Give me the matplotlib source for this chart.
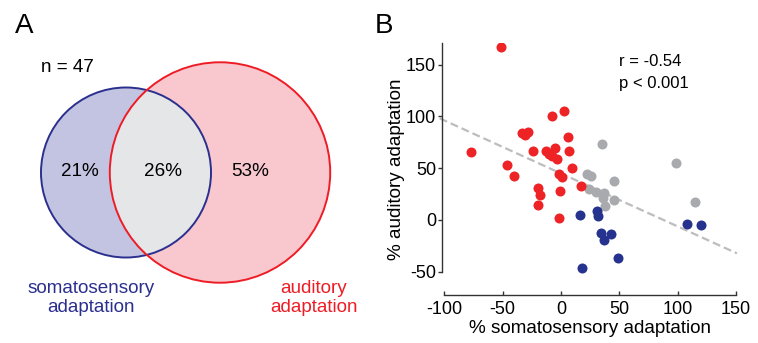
import numpy as np
import matplotlib
matplotlib.use("Agg")
import matplotlib.pyplot as plt
from matplotlib.patches import Circle

plt.rcParams['font.family'] = ['Liberation Sans', 'DejaVu Sans']
plt.rcParams['axes.unicode_minus'] = False

# ---------------- data ----------------
n_total = 47
venn_pct = [21, 26, 53]          # soma only, both, auditory only
venn_names = ["somatosensory\nadaptation", "auditory\nadaptation"]

red_x = [-51.4, -77.4, -46.6, -40.6, -33.4, -30.6, -28.0, -24.0, -20.0, -18.3,
         -19.4, -13.1, -7.7, -8.0, -4.9, -3.7, -1.4, 0.9, -0.6, -1.4,
         2.3, 6.3, 6.6, 9.4, 17.1, -10.5]
red_y = [167.0, 65.3, 53.0, 42.8, 84.3, 81.7, 84.6, 66.6, 30.3, 24.1,
         14.5, 66.3, 100.4, 61.5, 69.2, 58.3, 44.1, 41.5, 28.0, 1.6,
         105.0, 79.8, 66.6, 49.9, 32.2, 64.0]
gray_x = [35.4, 22.0, 25.4, 24.0, 30.0, 36.9, 35.7, 37.4, 45.1, 45.4, 98.9, 114.6]
gray_y = [73.0, 43.8, 42.5, 29.3, 27.0, 26.0, 21.2, 13.5, 37.7, 18.7, 55.0, 17.4]
blue_x = [16.0, 31.1, 31.7, 34.3, 36.6, 42.9, 48.6, 17.7, 108.3, 120.3]
blue_y = [4.2, 8.4, 3.2, -12.6, -19.3, -14.2, -36.7, -46.7, -4.5, -5.5]

fit_slope = -0.512
fit_intercept = 44.8
r_text = "r = -0.54"
p_text = "p < 0.001"

x_ticks = [-100, -50, 0, 50, 100, 150]
y_ticks = [-50, 0, 50, 100, 150]

# ---------------- colours ----------------
SOMA_EDGE = '#2B2F8E'
SOMA_FILL = '#C2C4E1'
AUD_EDGE = '#EE1C25'
AUD_FILL = '#F8C8CE'
BOTH_FILL = '#E5E6E8'
RED_DOT = '#EE2326'
BLUE_DOT = '#26338E'
GRAY_DOT = '#A9AAAD'

W, H = 758, 343
fig = plt.figure(figsize=(W / 100, H / 100), dpi=100)

# ---------------- panel A: Venn ----------------
axv = fig.add_axes([0, 0, 380 / W, 1])
axv.set_xlim(0, 380)
axv.set_ylim(H, 0)
axv.axis('off')

k = 12.4
r_soma = k * np.sqrt(venn_pct[0] + venn_pct[1])
r_aud = k * np.sqrt(venn_pct[1] + venn_pct[2])
cy = 172.5
cx_soma, cx_aud = 126, 220

c_soma = Circle((cx_soma, cy), r_soma, facecolor=SOMA_FILL, edgecolor='none', zorder=1)
c_aud = Circle((cx_aud, cy), r_aud, facecolor=AUD_FILL, edgecolor='none', zorder=2)
axv.add_patch(c_soma)
axv.add_patch(c_aud)
c_both = Circle((cx_soma, cy), r_soma, facecolor=BOTH_FILL, edgecolor='none', zorder=3)
axv.add_patch(c_both)
clip = Circle((cx_aud, cy), r_aud, transform=axv.transData)
c_both.set_clip_path(clip)
axv.add_patch(Circle((cx_soma, cy), r_soma, facecolor='none', edgecolor=SOMA_EDGE, lw=1.4, zorder=5))
axv.add_patch(Circle((cx_aud, cy), r_aud, facecolor='none', edgecolor=AUD_EDGE, lw=1.4, zorder=5))

fs = 13.6
axv.text(80, 172, f"{venn_pct[0]}%", ha='center', va='center', fontsize=fs, zorder=6)
axv.text(163, 172, f"{venn_pct[1]}%", ha='center', va='center', fontsize=fs, zorder=6)
axv.text(250, 172, f"{venn_pct[2]}%", ha='center', va='center', fontsize=fs, zorder=6)
axv.text(41, 67, f"n = {n_total}", ha='left', va='center', fontsize=fs)
axv.text(91, 298, venn_names[0], ha='center', va='center', fontsize=fs,
         color=SOMA_EDGE, linespacing=1.08)
axv.text(314, 298, venn_names[1], ha='center', va='center', fontsize=fs,
         color=AUD_EDGE, linespacing=1.08)
axv.text(24, 26, "A", ha='center', va='center', fontsize=20)

# ---------------- panel B: scatter ----------------
xlim = (-102.3, 152.0)
ylim = (-72.7, 170.6)
left_px, right_px = 441.7, 738.3
top_px, bot_px = 43.3, 295.0
axb = fig.add_axes([left_px / W, (H - bot_px) / H,
                    (right_px - left_px) / W, (bot_px - top_px) / H])
axb.set_xlim(*xlim)
axb.set_ylim(*ylim)
axb.patch.set_alpha(0)

xs = np.array([-104.0, 150.8])
axb.plot(xs, fit_slope * xs + fit_intercept, color='#BDBDBF', lw=1.6,
         dashes=(3.6, 1.8), zorder=1, clip_on=False)

ms = 52
axb.scatter(gray_x, gray_y, s=ms, color=GRAY_DOT, linewidths=0, zorder=2)
axb.scatter(blue_x, blue_y, s=ms, color=BLUE_DOT, linewidths=0, zorder=3)
axb.scatter(red_x, red_y, s=ms, color=RED_DOT, linewidths=0, zorder=3)

for side in ['top', 'right']:
    axb.spines[side].set_visible(False)
axb.spines['left'].set_bounds(-50, ylim[1])
axb.spines['bottom'].set_bounds(-100, 150)
for side in ['left', 'bottom']:
    axb.spines[side].set_color('#333333')
    axb.spines[side].set_linewidth(1.0)

axb.set_xticks(x_ticks)
axb.set_yticks(y_ticks)
axb.tick_params(axis='y', direction='out', length=3, width=1, color='#333333',
                labelsize=13, pad=1)
axb.tick_params(axis='x', direction='in', length=3, width=1, color='#333333',
                labelsize=13, pad=4)
axb.set_xlabel("% somatosensory adaptation", fontsize=13.6, labelpad=2)
axb.set_ylabel("% auditory adaptation", fontsize=13.6, labelpad=1)

axb.text(50, 153, r_text, fontsize=12, ha='left', va='center')
axb.text(50, 132, p_text, fontsize=12, ha='left', va='center')

fig.text(384 / W, 1 - 26 / H, "B", ha='center', va='center', fontsize=20)

fig.savefig("out.png", dpi=100)
